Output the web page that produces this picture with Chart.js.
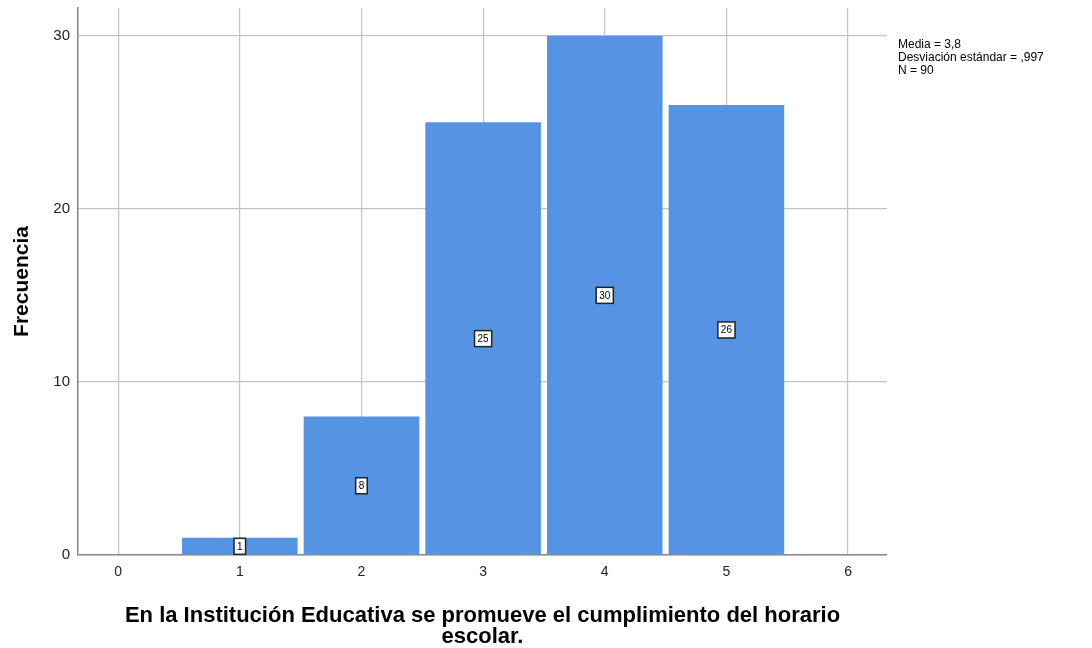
<!DOCTYPE html>
<html>
<head>
<meta charset="utf-8">
<script src="https://cdn.jsdelivr.net/npm/chart.js@4"></script>
<style>
  html, body { margin: 0; padding: 0; background: #fff; }
  #wrap { width: 1092px; height: 648px; }
</style>
</head>
<body>
<div id="wrap"><canvas id="histograma" width="1092" height="648"></canvas></div>
<script>
// Valores de la variable (centros de clase) y frecuencias
const valores = [1, 2, 3, 4, 5];
const frecuencias = [1, 8, 25, 30, 26];
const ticksY = [0, 10, 20, 30];
const estadisticos = ['Media = 3,8', 'Desviación estándar = ,997', 'N = 90'];
const tituloX = ['En la Institución Educativa se promueve el cumplimiento del horario', 'escolar.'];
const tituloY = 'Frecuencia';

const FUENTE = '"Liberation Sans", Arial, sans-serif';

// Etiquetas en caja blanca a media altura de cada barra
const etiquetas = {
    id: 'etiquetas',
    afterDatasetsDraw(chart) {
        const ctx = chart.ctx;
        const x = chart.scales.x, y = chart.scales.y;
        ctx.save();
        ctx.font = '10px ' + FUENTE;
        ctx.textAlign = 'center';
        ctx.textBaseline = 'middle';
        valores.forEach((v, i) => {
            const f = frecuencias[i];
            const px = x.getPixelForValue(v);
            const py = y.getPixelForValue(f / 2);
            const txt = String(f);
            const w = ctx.measureText(txt).width + 6;
            const h = 16;
            ctx.fillStyle = '#fff';
            ctx.fillRect(px - w / 2, py - h / 2, w, h);
            ctx.strokeStyle = '#222';
            ctx.lineWidth = 1.5;
            ctx.strokeRect(px - w / 2, py - h / 2, w, h);
            ctx.fillStyle = '#000';
            ctx.fillText(txt, px, py + 0.5);
        });
        ctx.restore();
    },
    afterDraw(chart) {
        const ctx = chart.ctx;
        ctx.save();
        ctx.font = '12px ' + FUENTE;
        ctx.fillStyle = '#000';
        ctx.textAlign = 'left';
        ctx.textBaseline = 'middle';
        estadisticos.forEach((t, i) => ctx.fillText(t, 898, 45 + i * 13));
        ctx.restore();
    }
};

new Chart(document.getElementById('histograma'), {
    type: 'bar',
    data: {
        datasets: [{
            data: valores.map((v, i) => ({ x: v, y: frecuencias[i] })),
            backgroundColor: '#5694e3',
            borderWidth: 0,
            barPercentage: 0.95,
            categoryPercentage: 1.0
        }]
    },
    options: {
        responsive: false,
        animation: false,
        layout: { padding: { left: 4, right: 205, top: 8, bottom: 0 } },
        plugins: {
            legend: { display: false },
            tooltip: { enabled: false }
        },
        scales: {
            x: {
                type: 'linear',
                offset: false,
                min: -0.33,
                max: 6.32,
                grid: { offset: false, color: '#c4c4c4', lineWidth: 1.2, drawTicks: false },
                border: { color: '#888', width: 1.5 },
                ticks: {
                    stepSize: 1,
                    includeBounds: false,
                    padding: 9,
                    color: '#222',
                    font: { family: FUENTE, size: 14 }
                },
                title: {
                    display: true,
                    text: tituloX,
                    color: '#000',
                    font: { family: FUENTE, size: 22, weight: 'bold', lineHeight: 0.93 },
                    padding: { top: 0, bottom: 1 }
                },
                afterFit(s) { s.height = 93; }
            },
            y: {
                min: 0,
                max: 31.6,
                grid: { color: '#c4c4c4', lineWidth: 1.2, drawTicks: false },
                border: { color: '#888', width: 1.5 },
                afterBuildTicks(s) { s.ticks = ticksY.map(v => ({ value: v })); },
                ticks: {
                    padding: 8,
                    color: '#222',
                    font: { family: FUENTE, size: 15 }
                },
                title: {
                    display: true,
                    text: tituloY,
                    color: '#000',
                    font: { family: FUENTE, size: 21, weight: 'bold' },
                    padding: { top: 6, bottom: 0 }
                },
                afterFit(s) { s.width = 74; s.paddingTop = 0; s.paddingBottom = 0; }
            }
        }
    },
    plugins: [etiquetas]
});
</script>
</body>
</html>
